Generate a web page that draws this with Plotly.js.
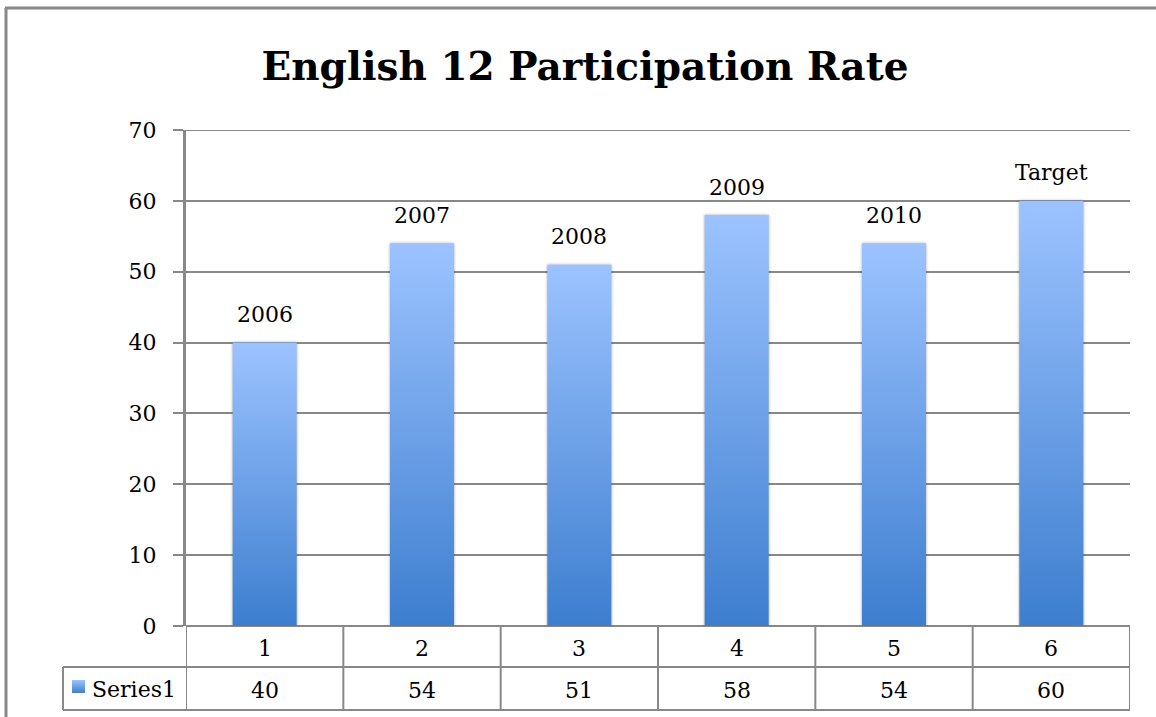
<!DOCTYPE html>
<html>
<head>
<meta charset="utf-8">
<script src="https://cdn.plot.ly/plotly-3.0.1.min.js"></script>
<style>
  html, body { margin: 0; padding: 0; background: #fff; }
  #chart { width: 1156px; height: 717px; }
</style>
</head>
<body>
<div id="chart"></div>
<script>
// ---- data ----
const categories = ['1', '2', '3', '4', '5', '6'];
const barLabels = ['2006', '2007', '2008', '2009', '2010', 'Target'];
const values = [40, 54, 51, 58, 54, 60];
const seriesName = 'Series1';
const yTickVals = [0, 10, 20, 30, 40, 50, 60, 70];
const chartTitle = 'English 12 Participation Rate';

// ---- layout geometry (pixels) ----
const W = 1156, H = 717;
const M = { l: 186, r: 26, t: 130, b: 91 };
const PW = W - M.l - M.r, PH = H - M.t - M.b;
const px = x => (x - M.l) / PW;          // pixel x -> paper x
const py = y => (H - M.b - y) / PH;      // pixel y -> paper y

const FONT = '"DejaVu Serif", "Liberation Serif", serif';
const GRID = '#888888';
const xs = categories.map((c, i) => i + 1);

const trace = {
  type: 'bar',
  x: xs,
  y: values,
  name: seriesName,
  width: 0.407,
  marker: { color: '#6a9de6', line: { width: 0 } },
  hoverinfo: 'x+y'
};

const shapes = [];
const line = { color: GRID, width: 2 };
// top gridline (at the range edge)
shapes.push({ type: 'line', xref: 'paper', yref: 'y', x0: 0, x1: 1, y0: yTickVals[yTickVals.length - 1], y1: yTickVals[yTickVals.length - 1], line });
// vertical table lines at category boundaries
for (let i = 0; i <= categories.length; i++) {
  shapes.push({ type: 'line', xref: 'x', yref: 'paper', x0: i + 0.5, x1: i + 0.5,
    y0: py(710), y1: py(626), line });
}
// horizontal table lines
shapes.push({ type: 'line', xref: 'paper', yref: 'paper', x0: px(63), x1: px(1130), y0: py(667), y1: py(667), line });
shapes.push({ type: 'line', xref: 'paper', yref: 'paper', x0: px(63), x1: px(1130), y0: py(710), y1: py(710), line });
shapes.push({ type: 'line', xref: 'paper', yref: 'paper', x0: px(63), x1: px(63), y0: py(710), y1: py(667), line });
// legend key
shapes.push({ type: 'rect', xref: 'paper', yref: 'paper', x0: px(72), x1: px(85), y0: py(693), y1: py(680),
  fillcolor: '#6a9de6', line: { width: 0 } });
// outer chart border
shapes.push({ type: 'line', xref: 'paper', yref: 'paper', x0: px(6), x1: px(6), y0: py(717), y1: py(8), line: { color: GRID, width: 3 } });
shapes.push({ type: 'line', xref: 'paper', yref: 'paper', x0: px(5), x1: px(1156), y0: py(8), y1: py(8), line: { color: GRID, width: 3 } });

const annotations = [];
const tFont = { family: FONT, size: 22, color: '#000' };
barLabels.forEach((lab, i) => {
  annotations.push({ xref: 'x', yref: 'y', x: xs[i], y: values[i], text: lab, showarrow: false,
    yanchor: 'middle', yshift: 28, font: tFont });
});
categories.forEach((c, i) => {
  annotations.push({ xref: 'x', yref: 'paper', x: xs[i], y: py(648), text: c, showarrow: false,
    yanchor: 'middle', font: tFont });
  annotations.push({ xref: 'x', yref: 'paper', x: xs[i], y: py(690), text: String(values[i]), showarrow: false,
    yanchor: 'middle', font: tFont });
});
annotations.push({ xref: 'paper', yref: 'paper', x: px(90), y: py(689), text: seriesName, showarrow: false,
  xanchor: 'left', yanchor: 'middle', font: tFont });

const layout = {
  width: W, height: H,
  margin: M,
  paper_bgcolor: '#fff', plot_bgcolor: '#fff',
  showlegend: false,
  title: { text: '<b>' + chartTitle + '</b>', xref: 'container', yref: 'container',
    x: 585 / W, y: 1 - 66 / H, xanchor: 'center', yanchor: 'middle',
    font: { family: FONT, size: 39, color: '#000' } },
  xaxis: { range: [0.5, 6.5], showticklabels: false, showgrid: false, zeroline: false,
    showline: false, ticks: '', fixedrange: true },
  yaxis: { range: [0, 70], tickvals: yTickVals, ticktext: yTickVals.map(String),
    showgrid: true, gridcolor: GRID, gridwidth: 2, zeroline: true, zerolinecolor: GRID, zerolinewidth: 2,
    showline: true, linecolor: GRID, linewidth: 3,
    ticks: 'outside', ticklen: 10, tickwidth: 2, tickcolor: GRID, ticklabelstandoff: 12,
    tickfont: { family: FONT, size: 22, color: '#000' }, fixedrange: true },
  bargap: 0.59,
  shapes, annotations
};

Plotly.newPlot('chart', [trace], layout, { displayModeBar: false, staticPlot: true }).then(applyGradient);

function applyGradient() {
  const svg = document.querySelector('#chart .main-svg');
  let defs = svg.querySelector('defs');
  const ns = 'http://www.w3.org/2000/svg';
  if (!defs) { defs = document.createElementNS(ns, 'defs'); svg.insertBefore(defs, svg.firstChild); }
  const g = document.createElementNS(ns, 'linearGradient');
  g.setAttribute('id', 'barGrad');
  g.setAttribute('x1', '0'); g.setAttribute('y1', '0'); g.setAttribute('x2', '0'); g.setAttribute('y2', '1');
  [['0%', '#9cc3ff'], ['100%', '#3d7ecf']].forEach(([o, c]) => {
    const s = document.createElementNS(ns, 'stop');
    s.setAttribute('offset', o); s.setAttribute('stop-color', c);
    g.appendChild(s);
  });
  defs.appendChild(g);
  document.querySelectorAll('#chart g.trace.bars path').forEach(p => {
    p.style.fill = 'url(#barGrad)';
    p.style.filter = 'drop-shadow(0px 0px 1.5px rgba(0,0,0,0.35))';
  });
  document.querySelectorAll('#chart .layer-above path, #chart .shapelayer path').forEach(p => {
    if (p.style.fill && p.style.fill.indexOf('106, 157, 230') >= 0) p.style.fill = 'url(#barGrad)';
  });
}
</script>
</body>
</html>
